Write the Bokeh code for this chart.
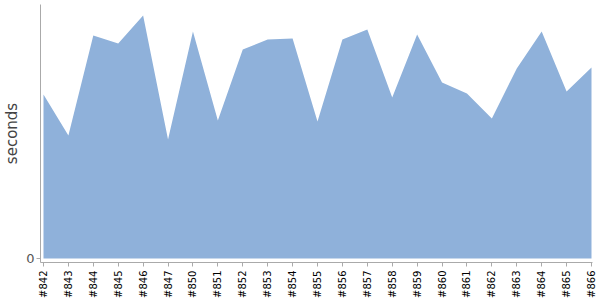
import math
from bokeh.plotting import figure
from bokeh.models import FixedTicker, Range1d
from bokeh.embed import file_html
from bokeh.resources import INLINE

builds = ["#842", "#843", "#844", "#845", "#846", "#847", "#850", "#851", "#852", "#853",
          "#854", "#855", "#856", "#857", "#858", "#859", "#860", "#861", "#862", "#863",
          "#864", "#865", "#866"]
seconds = [16.4, 12.3, 22.3, 21.5, 24.3, 11.9, 22.7, 13.8, 20.9, 21.9,
           22.0, 13.7, 21.9, 22.9, 16.1, 22.4, 17.6, 16.5, 14.0, 19.0,
           22.7, 16.7, 19.1]

xs = list(range(len(builds)))

p = figure(width=600, height=300, output_backend="svg", toolbar_location=None,
           x_range=Range1d(-0.12, len(builds) - 1 + 0.04),
           y_range=Range1d(-0.4, 25.4),
           min_border_left=0, min_border_right=8, min_border_top=4, min_border_bottom=38)

p.varea(x=xs, y1=[0] * len(xs), y2=seconds, fill_color="#8fb1da", fill_alpha=1.0)

p.xgrid.visible = False
p.ygrid.visible = False
p.outline_line_color = None
p.background_fill_color = "white"
p.border_fill_color = "white"

xa = p.xaxis[0]
xa.ticker = FixedTicker(ticks=xs)
xa.major_label_overrides = {i: b for i, b in enumerate(builds)}
xa.major_label_orientation = math.pi / 2
xa.major_label_text_font = "DejaVu Sans"
xa.major_label_text_font_size = "10px"
xa.major_label_text_color = "#000000"
xa.axis_line_color = "#aaaaaa"
xa.major_tick_line_color = "#aaaaaa"
xa.major_tick_out = 4
xa.major_tick_in = 0
xa.minor_tick_line_color = None
xa.major_label_standoff = 4

ya = p.yaxis[0]
ya.ticker = FixedTicker(ticks=[0])
ya.axis_label = "seconds"
ya.axis_label_text_font = "DejaVu Sans"
ya.axis_label_text_font_size = "15px"
ya.axis_label_text_font_style = "normal"
ya.axis_label_text_color = "#444444"
ya.axis_label_standoff = 2
ya.major_label_text_font = "DejaVu Sans"
ya.major_label_text_font_size = "13px"
ya.major_label_text_color = "#555555"
ya.axis_line_color = "#aaaaaa"
ya.major_tick_line_color = "#aaaaaa"
ya.major_tick_out = 4
ya.major_tick_in = 0
ya.minor_tick_line_color = None
ya.major_label_standoff = 2

open("out.html", "w").write(file_html(p, INLINE))
